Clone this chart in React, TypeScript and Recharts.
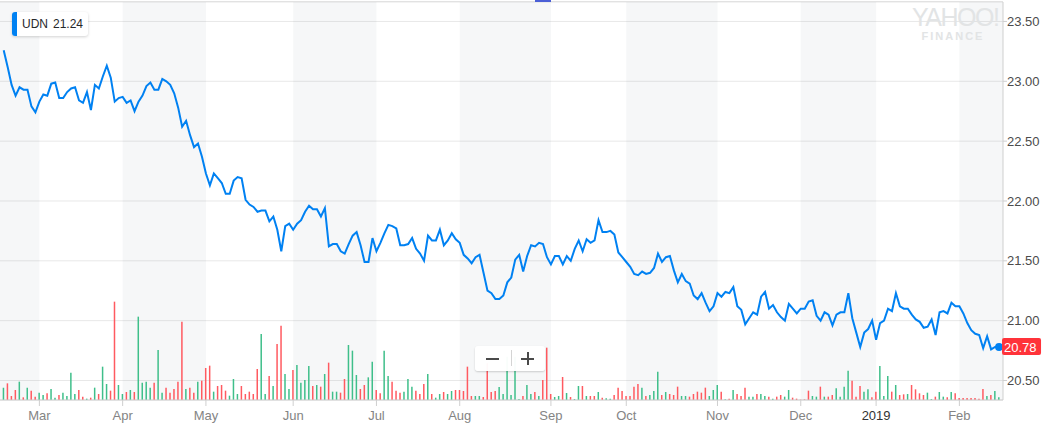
import React from "react";
import {
    Bar,
    CartesianGrid,
    Cell,
    ComposedChart,
    Line,
    ReferenceArea,
    ReferenceDot,
    XAxis,
    YAxis,
} from "recharts";

// daily closes, Feb 2018 -> Feb 2019
const closes = [
    23.26, 23.12, 22.97, 22.88, 22.95, 22.93, 22.93, 22.79, 22.74, 22.83,
    22.89, 22.88, 22.98, 22.99, 22.86, 22.86, 22.91, 22.94, 22.95, 22.84,
    22.82, 22.91, 22.76, 22.97, 22.94, 23.04, 23.13, 23.03, 22.83, 22.86,
    22.87, 22.82, 22.84, 22.75, 22.83, 22.88, 22.96, 22.99, 22.93, 22.93,
    23.02, 23.0, 22.97, 22.9, 22.78, 22.62, 22.67, 22.55, 22.45, 22.48,
    22.37, 22.23, 22.13, 22.23, 22.19, 22.15, 22.06, 22.06, 22.17, 22.2,
    22.19, 22.01, 21.97, 21.95, 21.91, 21.92, 21.92, 21.83, 21.87, 21.76,
    21.58, 21.79, 21.81, 21.76, 21.81, 21.84, 21.91, 21.96, 21.93, 21.93,
    21.87, 21.94, 21.62, 21.64, 21.64, 21.58, 21.56, 21.64, 21.71, 21.74,
    21.63, 21.49, 21.49, 21.69, 21.58, 21.65, 21.73, 21.8, 21.79, 21.77,
    21.63, 21.63, 21.64, 21.69, 21.6, 21.56, 21.5, 21.71, 21.67, 21.67,
    21.76, 21.63, 21.67, 21.73, 21.68, 21.65, 21.55, 21.52, 21.48, 21.53,
    21.55, 21.4, 21.25, 21.23, 21.18, 21.18, 21.21, 21.32, 21.36, 21.51,
    21.55, 21.41, 21.54, 21.63, 21.62, 21.65, 21.64, 21.53, 21.47, 21.54,
    21.54, 21.47, 21.54, 21.5, 21.6, 21.67, 21.58, 21.68, 21.65, 21.67,
    21.84, 21.74, 21.74, 21.75, 21.72, 21.57, 21.53, 21.49, 21.45, 21.39,
    21.38, 21.41, 21.39, 21.4, 21.44, 21.56, 21.49, 21.53, 21.54, 21.42,
    21.32, 21.39, 21.33, 21.31, 21.21, 21.18, 21.23, 21.15, 21.08, 21.12,
    21.23, 21.2, 21.24, 21.23, 21.28, 21.12, 21.09, 20.97, 21.02, 21.07,
    21.05, 21.2, 21.24, 21.1, 21.13, 21.07, 21.03, 21.0, 21.14, 21.1,
    21.06, 21.1, 21.1, 21.16, 21.17, 21.04, 21.0, 21.07, 21.05, 20.96,
    21.05, 21.07, 21.07, 21.23, 21.02, 20.9, 20.78, 20.9, 20.93, 21.0,
    20.84, 20.98, 21.0, 21.1, 21.08, 21.23, 21.12, 21.1, 21.1, 21.05,
    21.01, 20.99, 20.94, 20.95, 21.01, 20.88, 21.07, 21.08, 21.06, 21.15,
    21.12, 21.12, 21.06, 20.98, 20.92, 20.89, 20.88, 20.77, 20.87, 20.76,
    20.78, 20.78,
];

// volume, thousands of shares
const volumes = [
    37, 50, 12, 30, 55, 8, 37, 28, 10, 22,
    15, 20, 33, 7, 15, 22, 12, 82, 18, 30,
    10, 4, 7, 37, 18, 100, 48, 28, 295, 45,
    18, 24, 30, 24, 250, 52, 55, 37, 52, 150,
    22, 37, 22, 33, 55, 235, 33, 37, 22, 55,
    58, 96, 103, 25, 42, 45, 28, 13, 63, 18,
    42, 18, 25, 18, 93, 198, 18, 72, 42, 168,
    223, 78, 33, 90, 105, 52, 60, 102, 42, 45,
    40, 78, 112, 25, 25, 22, 63, 165, 148, 75,
    33, 45, 68, 115, 30, 20, 148, 72, 55, 28,
    22, 25, 63, 40, 28, 18, 48, 78, 18, 7,
    18, 24, 18, 27, 30, 30, 27, 100, 12, 12,
    12, 9, 110, 24, 27, 39, 18, 130, 15, 130,
    3, 12, 45, 18, 24, 12, 60, 157, 18, 9,
    12, 69, 21, 9, 3, 42, 42, 12, 12, 12,
    24, 7, 5, 4, 15, 37, 27, 12, 12, 40,
    48, 37, 12, 15, 27, 85, 15, 24, 18, 15,
    40, 12, 12, 10, 18, 25, 22, 37, 12, 30,
    45, 25, 2, 4, 30, 18, 12, 37, 10, 10,
    18, 18, 12, 10, 4, 10, 15, 10, 30, 7,
    4, 1, 2, 28, 12, 10, 40, 10, 10, 15,
    35, 10, 40, 88, 58, 10, 42, 25, 32, 8,
    25, 102, 12, 72, 25, 45, 15, 17, 18, 45,
    32, 20, 15, 22, 3, 10, 24, 10, 8, 24,
    20, 6, 6, 6, 6, 6, 4, 33, 12, 15,
    27, 8,
];

// g = up day, r = down day
const volumeDirs = (
    "grrrgrgrrg" + "grggrggggr" + "rgrgrggrrg" + "grgrggggrg" + "grrrrrgrrg" +
    "rrrgrrrggg" + "rrrrrggrgr" + "rggrggggrg" + "rgrggrrggg" + "rrggrrggrr" +
    "rgggrrrgrg" + "grggrrrrrg" + "grrrrggggg" + "grggrgrrrg" + "grgrggrgrr" +
    "grggrrrrrr" + "rgrgggrgrr" + "rggrrrrrgg" + "grgrgrrrgg" + "rggrgrrggr" +
    "rrrrggrgrr" + "ggggrrrggr" + "rgggrgrrgr" + "rrrggrggrg" + "rrrrrrrrgr" +
    "gg"
).split("");

const monthTickIndex = [9, 30, 51, 73, 94, 115, 138, 157, 180, 201, 220, 241];
const monthTickLabels = ["Mar", "Apr", "May", "Jun", "Jul", "Aug", "Sep", "Oct", "Nov", "Dec", "2019", "Feb"];
const priceTicks = [20.5, 21.0, 21.5, 22.0, 22.5, 23.0, 23.5];

const symbol = "UDN";
const symbolValue = 21.24;

const BLUE = "#0081f2";
const UP = "#3fbf8a";
const DOWN = "#ff5a60";
const FONT = "'Liberation Sans', Arial, Helvetica, sans-serif";

const X_DOMAIN: [number, number] = [-0.93, 252.0];
const Y_DOMAIN: [number, number] = [20.337, 23.6625];

const data = closes.map((close, i) => ({
    i,
    close,
    volume: volumes[i],
    up: volumeDirs[i] === "g",
}));

// shaded bands on every other month
const bandEdges = [X_DOMAIN[0], ...monthTickIndex, X_DOMAIN[1]];
const bands: [number, number][] = [];
for (let k = 0; k + 1 < bandEdges.length; k += 2) {
    bands.push([bandEdges[k], bandEdges[k + 1]]);
}

const MonthTick = (props: any) => {
    const {x, y, payload} = props;
    const label = monthTickLabels[monthTickIndex.indexOf(payload.value)] ?? "";
    const isYear = /^\d{4}$/.test(label);
    return (
        <text x={x} y={y} dy="0.71em" textAnchor="middle" fontSize={13} fontFamily={FONT}
              fill={isYear ? "#333333" : "#848484"}>
            {label}
        </text>
    );
};

const LastPrice = (props: any) => {
    const {cx, cy} = props;
    const last = closes[closes.length - 1];
    return (
        <g>
            <circle cx={cx} cy={cy} r={4} fill={BLUE}/>
            <rect x={cx + 3} y={cy - 9} width={39} height={17} rx={2} fill="#ff333a"/>
            <text x={cx + 5} y={cy} dy="0.36em" fontSize={13} fontFamily={FONT} fill="#ffffff">
                {last.toFixed(2)}
            </text>
        </g>
    );
};

export default function App() {
    const last = closes.length - 1;
    return (
        <div style={{position: "relative", width: 1046, height: 425, fontFamily: FONT, background: "#fff"}}>
            <style>{"body{margin:0}"}</style>
            <ComposedChart width={1046} height={425} data={data}
                           margin={{top: 2, right: 0, bottom: 0, left: 0}}>
                {bands.map(([a, b], k) => (
                    <ReferenceArea key={k} x1={a} x2={b} yAxisId="p" fill="#506070" fillOpacity={0.05}
                                   stroke="none" ifOverflow="hidden"/>
                ))}
                <CartesianGrid yAxisId="p" vertical={false} stroke="#e8e8e8"/>
                <XAxis
                    dataKey="i"
                    type="number"
                    domain={X_DOMAIN}
                    allowDataOverflow
                    ticks={monthTickIndex}
                    interval={0}
                    height={25}
                    tickSize={6}
                    tickMargin={5}
                    stroke="#cfcfcf"
                    tick={<MonthTick/>}
                />
                <YAxis
                    yAxisId="p"
                    orientation="right"
                    type="number"
                    domain={Y_DOMAIN}
                    allowDataOverflow
                    ticks={priceTicks}
                    width={43}
                    tickSize={4}
                    tickMargin={0}
                    stroke="#cfcfcf"
                    tick={{fontSize: 13, fill: "#4b4b4b", fontFamily: FONT}}
                    tickFormatter={(v: number) => v.toFixed(2)}
                />
                <YAxis yAxisId="v" hide domain={[0, 1194]} allowDataOverflow/>
                <Bar dataKey="volume" yAxisId="v" barSize={1.5} isAnimationActive={false}>
                    {data.map((d, k) => (
                        <Cell key={k} fill={d.up ? UP : DOWN}/>
                    ))}
                </Bar>
                <Line
                    dataKey="close"
                    yAxisId="p"
                    type="linear"
                    stroke={BLUE}
                    strokeWidth={2}
                    dot={false}
                    activeDot={false}
                    isAnimationActive={false}
                />
                <ReferenceDot x={last} y={closes[last]} yAxisId="p" ifOverflow="visible" shape={<LastPrice/>}/>
            </ComposedChart>

            {/* top frame line and scroll marker */}
            <div style={{position: "absolute", left: 0, top: 1, width: 1003, height: 1, background: "#e2e2e2"}}/>
            <div style={{position: "absolute", left: 535, top: 0, width: 16, height: 2, background: "#4b5fd6"}}/>

            {/* symbol badge */}
            <div style={{
                position: "absolute", left: 12, top: 12, width: 76, height: 24, background: "#fff",
                borderRadius: 3, boxShadow: "0 1px 3px rgba(0,0,0,0.18)", fontSize: 12, color: "#26282a",
                lineHeight: "24px", whiteSpace: "nowrap",
            }}>
                <div style={{position: "absolute", left: 0, top: 0, width: 5, height: 24, background: BLUE,
                    borderRadius: "3px 0 0 3px"}}/>
                <span style={{position: "absolute", left: 10}}>{symbol}</span>
                <span style={{position: "absolute", left: 41}}>{symbolValue.toFixed(2)}</span>
            </div>

            {/* watermark */}
            <div style={{position: "absolute", left: 912, top: 4, width: 82, textAlign: "center", color: "#e2e4e5",
                whiteSpace: "nowrap"}}>
                <div style={{fontSize: 25, letterSpacing: -1.5, lineHeight: "26px"}}>YAHOO!</div>
                <div style={{fontSize: 11, fontWeight: "bold", letterSpacing: 2, lineHeight: "12px"}}>FINANCE</div>
            </div>

            {/* zoom control */}
            <div style={{
                position: "absolute", left: 475, top: 346, width: 70, height: 25, background: "rgba(255,255,255,0.96)",
                borderRadius: 3, boxShadow: "0 1px 2px rgba(0,0,0,0.18)",
            }}>
                <div style={{position: "absolute", left: 11, top: 12, width: 13, height: 2, background: "#4a4a4a"}}/>
                <div style={{position: "absolute", left: 36, top: 4, width: 1, height: 16, background: "#d4d4d4"}}/>
                <div style={{position: "absolute", left: 46, top: 12, width: 13, height: 2, background: "#4a4a4a"}}/>
                <div style={{position: "absolute", left: 51.5, top: 6, width: 2, height: 13, background: "#4a4a4a"}}/>
            </div>
        </div>
    );
}
